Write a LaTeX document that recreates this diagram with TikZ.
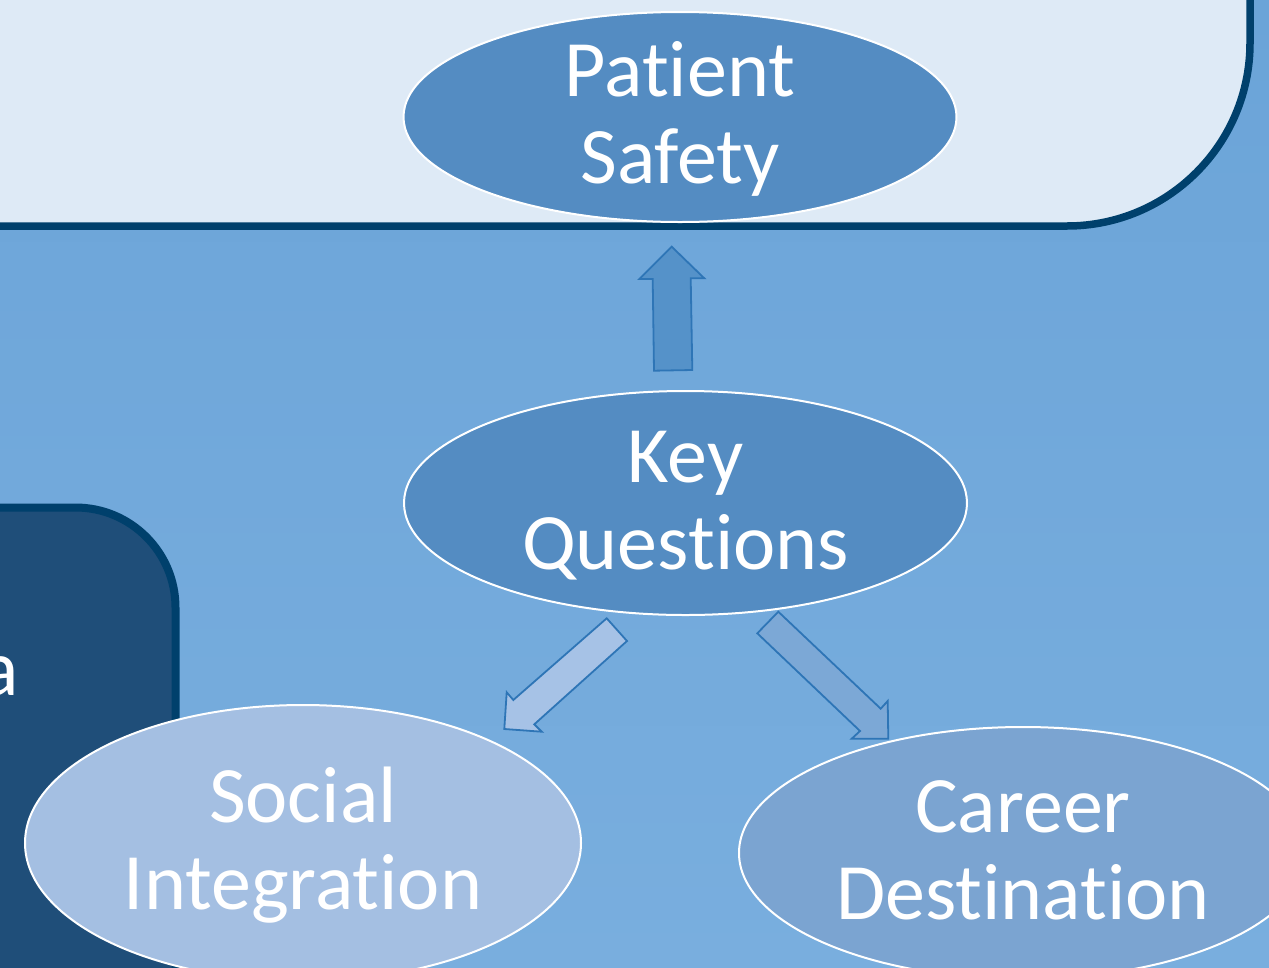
\documentclass[tikz,border=0pt]{standalone}
\usepackage{fontspec}
\setmainfont{Carlito}[Ligatures=NoCommon]
\usetikzlibrary{shapes.geometric,calc}

\definecolor{bgtop}{HTML}{6BA4D8}
\definecolor{bgbot}{HTML}{79AEDE}
\definecolor{panel}{HTML}{DEEAF6}
\definecolor{frame}{HTML}{00406C}
\definecolor{navy}{HTML}{1F4E79}
\definecolor{midblue}{HTML}{548CC2}
\definecolor{paleblue}{HTML}{A4BFE2}
\definecolor{softblue}{HTML}{7BA4D1}
\definecolor{arrowedge}{HTML}{2E75B6}
\definecolor{arrowmid}{HTML}{5592C9}
\definecolor{arrowpale}{HTML}{A6C2E6}
\definecolor{arrowsoft}{HTML}{7CA8D6}

\tikzset{
  bubble/.style={ellipse, draw=white, line width=2pt, inner sep=0pt, outer sep=0pt},
  word/.style={text=white, font=\fontsize{80}{88}\selectfont, inner sep=0pt, anchor=base},
  blockarrow/.style={draw=arrowedge, line width=1.8pt, line join=miter},
}

\begin{document}
\begin{tikzpicture}[x=1pt,y=-1pt]
\useasboundingbox (0,0) rectangle (1269,967);
\clip (0,0) rectangle (1269,967);

% backdrop
\shade[top color=bgtop, bottom color=bgbot] (0,0) rectangle (1269,967);

% upper panel with rounded lower-right corner
\draw[line width=7.5pt, draw=frame, fill=panel, rounded corners=183pt]
  (-400,-400) -- (1250,-400) -- (1250,226) -- (-400,226) -- cycle;

% dark side panel with rounded upper-right corner
\draw[line width=8pt, draw=frame, fill=navy, rounded corners=100pt]
  (-400,507.5) -- (175.5,507.5) -- (175.5,1400) -- (-400,1400) -- cycle;
\node[word, anchor=base east] (sidetext) at (19,695) {a};

% topic bubbles
\node[bubble, fill=midblue,  minimum width=553pt, minimum height=210pt] (safety)    at (680,117)   {};
\node[bubble, fill=midblue,  minimum width=563pt, minimum height=224pt] (questions) at (685.5,503) {};
\node[bubble, fill=paleblue, minimum width=556pt, minimum height=276pt] (social)    at (303,843)   {};
\node[bubble, fill=softblue, minimum width=568pt, minimum height=252pt] (career)    at (1023,853)  {};

% bubble labels
\node[word] (safety1)    at ($(safety.center)+(0,-21)$)    {Patient};
\node[word] (safety2)    at ($(safety.center)+(0,66)$)     {Safety};
\node[word] (questions1) at ($(questions.center)+(0,-21)$) {Key};
\node[word] (questions2) at ($(questions.center)+(0,66)$)  {Questions};
\node[word] (social1)    at ($(social.center)+(0,-21)$)    {Social};
\node[word] (social2)    at ($(social.center)+(0,66)$)     {Integration};
\node[word] (career1)    at ($(career.center)+(0,-21)$)    {Career};
\node[word] (career2)    at ($(career.center)+(0,66)$)     {Destination};

% block arrows
\filldraw[blockarrow, fill=arrowmid]
  (654,370.7) -- (652.7,279) -- (639.3,279) -- (671.7,246.7) -- (704.3,278.3)
  -- (690.7,278.3) -- (692.3,370) -- cycle;
\filldraw[blockarrow, fill=arrowpale]
  (606.7,618.3) -- (627,641) -- (534.3,724.3) -- (541.7,731.7) -- (504.3,729)
  -- (506.7,692.3) -- (513.3,700) -- cycle;
\filldraw[blockarrow, fill=arrowsoft]
  (778.3,611.7) -- (757.3,633.3) -- (860,731) -- (851.7,738.7) -- (888.3,738.7)
  -- (887.7,701) -- (880.7,708.7) -- cycle;
\end{tikzpicture}
\end{document}
